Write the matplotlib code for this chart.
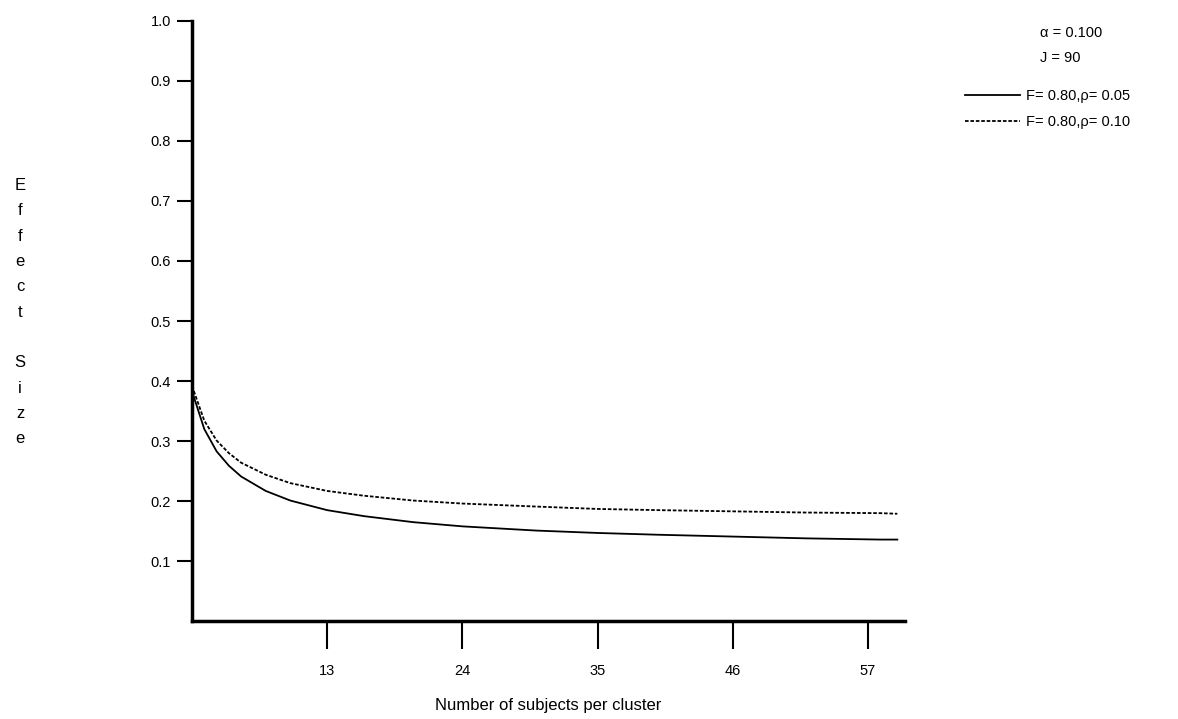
import numpy as np
import matplotlib.pyplot as plt

plt.rcParams['font.family'] = ['Liberation Sans', 'DejaVu Sans']

# values
n_subjects = [2, 3, 4, 5, 6, 8, 10, 13, 16, 20, 24, 30, 35, 40, 46, 52, 58, 59.4]
es_rho05 = [0.383, 0.320, 0.283, 0.259, 0.241, 0.217, 0.201, 0.185, 0.175, 0.165,
            0.158, 0.151, 0.147, 0.144, 0.141, 0.138, 0.136, 0.136]
es_rho10 = [0.392, 0.334, 0.301, 0.280, 0.264, 0.244, 0.230, 0.217, 0.209, 0.201,
            0.196, 0.191, 0.187, 0.185, 0.183, 0.181, 0.180, 0.179]

x_ticks = [13, 24, 35, 46, 57]
y_ticks = [0.1, 0.2, 0.3, 0.4, 0.5, 0.6, 0.7, 0.8, 0.9, 1.0]

fig = plt.figure(figsize=(11.78, 7.19), dpi=100)
ax = fig.add_axes([0.163, 0.136, 0.605, 0.835])

ax.plot(n_subjects, es_rho05, color='black', linewidth=1.3, label='F= 0.80,\u03c1= 0.05')
ax.plot(n_subjects, es_rho10, color='black', linewidth=1.3, linestyle=(0, (2, 1)),
        label='F= 0.80,\u03c1= 0.10')

ax.set_xlim(2, 60)
ax.set_ylim(0, 1.0)
ax.set_xticks(x_ticks)
ax.set_yticks(y_ticks)
ax.set_yticklabels([f'{v:.1f}' for v in y_ticks])

for side in ['top', 'right']:
    ax.spines[side].set_visible(False)
for side in ['left', 'bottom']:
    ax.spines[side].set_linewidth(2.5)

ax.tick_params(axis='x', length=20, width=1.5, pad=11, labelsize=10.5)
ax.tick_params(axis='y', length=11, width=1.5, pad=4, labelsize=10.5)

ax.set_xlabel('Number of subjects per cluster', fontsize=12, labelpad=14)

# stacked y label like the original
fig.text(0.017, 0.566, '\n'.join('Effect Size'), fontsize=12, ha='center', va='center',
         linespacing=1.86)

# header of the legend
fig.text(0.883, 0.954, '\u03b1 = 0.100', fontsize=10.5, va='center')
fig.text(0.883, 0.920, 'J = 90', fontsize=10.5, va='center')

fig.legend(loc='upper left', bbox_to_anchor=(0.819, 0.876), frameon=False,
           handlelength=3.8, handletextpad=0.4, labelspacing=0.8, fontsize=10.5,
           borderaxespad=0, borderpad=0)

fig.savefig('out.png', dpi=100)
